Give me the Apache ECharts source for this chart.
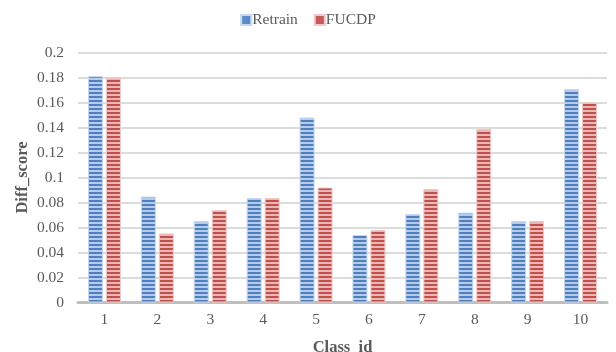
<!DOCTYPE html>
<html>
<head>
<meta charset="utf-8">
<script src="https://cdn.jsdelivr.net/npm/echarts@6/dist/echarts.min.js"></script>
<style>
  html, body { margin: 0; padding: 0; background: #fff; }
  #chart { width: 616px; height: 352px; }
</style>
</head>
<body>
<div id="chart"></div>
<script>
// Per-class difference scores for the two methods
const categories = ['1', '2', '3', '4', '5', '6', '7', '8', '9', '10'];
const retrain = [0.181, 0.0847, 0.0652, 0.0836, 0.148, 0.054, 0.0708, 0.0719, 0.0652, 0.1708];
const fucdp   = [0.180, 0.0553, 0.074, 0.0836, 0.092, 0.058, 0.0908, 0.1388, 0.0652, 0.160];
const seriesNames = ['Retrain', 'FUCDP'];

// Horizontal-stripe fill, drawn onto a tiny canvas and tiled by ECharts
function stripes(dark, light) {
  const c = document.createElement('canvas');
  c.width = 4; c.height = 4;
  const g = c.getContext('2d');
  g.fillStyle = light; g.fillRect(0, 0, 4, 4);
  g.fillStyle = dark; g.fillRect(0, 0, 4, 2);
  return { image: c, repeat: 'repeat' };
}

const blueFill = stripes('#4f7fc1', '#b5cbea');
const redFill = stripes('#c0504d', '#ebb7b5');

const font = '"Liberation Serif", "Times New Roman", serif';
const chart = echarts.init(document.getElementById('chart'), null, { renderer: 'canvas' });

chart.setOption({
  animation: false,
  textStyle: { fontFamily: font },
  legend: {
    top: 7,
    left: 'center',
    itemWidth: 10,
    itemHeight: 10,
    itemGap: 16,
    textStyle: { fontFamily: font, fontSize: 15.5, color: '#595959', padding: [0, 0, 0, -4] },
    data: [
      { name: seriesNames[0], icon: 'rect', itemStyle: { color: '#5b8bcb' } },
      { name: seriesNames[1], icon: 'rect', itemStyle: { color: '#c85a57' } }
    ]
  },
  grid: { left: 78, right: 9, top: 52.5, bottom: 49.5, containLabel: false, outerBoundsMode: 'none' },
  xAxis: {
    type: 'category',
    data: categories,
    name: 'Class_id',
    nameLocation: 'middle',
    nameGap: 36.5,
    nameMoveOverlap: false,
    nameTextStyle: { fontFamily: font, fontSize: 16.5, fontWeight: 'bold', color: '#595959' },
    axisLine: { lineStyle: { color: '#bfbfbf', width: 3 } },
    axisTick: { show: false },
    axisLabel: { fontFamily: font, fontSize: 15.5, color: '#595959', margin: 9 }
  },
  yAxis: {
    type: 'value',
    min: 0,
    max: 0.2,
    interval: 0.02,
    name: 'Diff_score',
    nameLocation: 'middle',
    nameGap: 47,
    nameMoveOverlap: false,
    nameRotate: 90,
    nameTextStyle: { fontFamily: font, fontSize: 16.5, fontWeight: 'bold', color: '#595959' },
    axisLine: { show: false },
    axisTick: { show: false },
    axisLabel: { fontFamily: font, fontSize: 15.5, color: '#595959', margin: 14 },
    splitLine: { lineStyle: { color: '#dcdcdc', width: 2 } }
  },
  series: [
    {
      name: seriesNames[0],
      type: 'bar',
      data: retrain,
      barWidth: 15,
      barGap: '20%',
      itemStyle: { color: blueFill, borderColor: '#c6d7ef', borderWidth: 1 }
    },
    {
      name: seriesNames[1],
      type: 'bar',
      data: fucdp,
      barWidth: 15,
      itemStyle: { color: redFill, borderColor: '#efc9c8', borderWidth: 1 }
    }
  ]
});
</script>
</body>
</html>
